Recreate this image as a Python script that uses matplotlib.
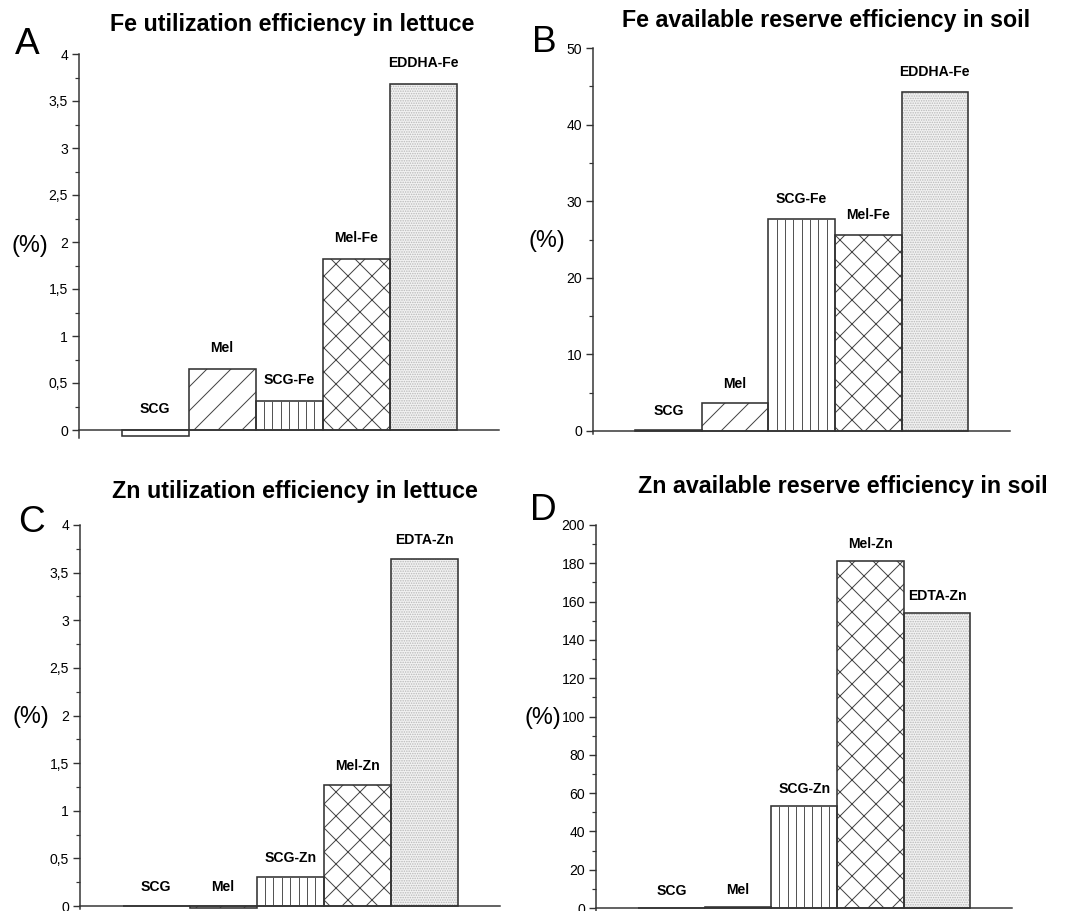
import matplotlib
matplotlib.use('Agg')
import matplotlib.pyplot as plt
from matplotlib.ticker import MultipleLocator, FuncFormatter

plt.rcParams['font.family'] = ['Liberation Sans', 'DejaVu Sans']
plt.rcParams['hatch.linewidth'] = 1.0

# data
fe_labels = ['SCG', 'Mel', 'SCG-Fe', 'Mel-Fe', 'EDDHA-Fe']
zn_labels = ['SCG', 'Mel', 'SCG-Zn', 'Mel-Zn', 'EDTA-Zn']
fe_lettuce = [-0.06, 0.645, 0.305, 1.82, 3.68]
fe_soil = [0.1, 3.6, 27.7, 25.6, 44.3]
zn_lettuce = [0.005, -0.02, 0.305, 1.275, 3.64]
zn_soil = [0.0, 0.5, 53.3, 181.4, 153.9]

hatches = ['', '/', 'vert', 'x', '.....']

# at 72 dpi one point is one pixel
W, H, DPI = 1074, 911, 72
fig = plt.figure(figsize=(W / DPI, H / DPI), dpi=DPI)


def comma(v, pos):
    s = '{:g}'.format(v)
    return s.replace('.', ',')


def panel(px, letter, lpos, title, tpos, labels, vals, ymax, major, minor, ybot, lab_off):
    # px = (left, right, top_at_ymax, zero_pixel)
    left, right, top, zero = px
    ppu = (zero - top) / ymax
    bottom = zero + (-ybot) * ppu
    ax = fig.add_axes([left / W, 1 - bottom / H, (right - left) / W, (bottom - top) / H])
    x = range(1, 6)
    for xi, v, h in zip(x, vals, hatches):
        if h.startswith('.'):
            ax.bar(xi, v, width=1.0, color='#f2f2f2', edgecolor='#b8b8b8', hatch=h, linewidth=0)
        elif h == 'vert':
            ax.bar(xi, v, width=1.0, color='white', linewidth=0)
            ax.vlines([xi - 0.5 + k / 8 for k in range(1, 8)], 0, v, color='#555555', lw=1.0)
        else:
            ax.bar(xi, v, width=1.0, color='white', edgecolor='#444444', hatch=h, linewidth=0)
    ax.bar(x, vals, width=1.0, fill=False, edgecolor='#333333', linewidth=1.6)
    for xi, v, t in zip(x, vals, labels):
        ax.annotate(t, (xi, max(v, 0)), xytext=(0, lab_off), textcoords='offset points',
                    ha='center', va='center', fontsize=14, fontweight='bold')
    ax.set_xlim(-0.135, 6.13)
    ax.set_ylim(ybot, ymax)
    ax.spines['top'].set_visible(False)
    ax.spines['right'].set_visible(False)
    ax.spines['bottom'].set_position(('data', 0))
    for s in ['left', 'bottom']:
        ax.spines[s].set_linewidth(1.5)
        ax.spines[s].set_color('#333333')
    ax.set_xticks([])
    ax.yaxis.set_major_locator(MultipleLocator(major))
    ax.yaxis.set_minor_locator(MultipleLocator(minor))
    ax.yaxis.set_major_formatter(FuncFormatter(comma))
    ax.tick_params(axis='y', which='major', direction='out', length=7, width=1.4,
                   labelsize=14, pad=4, color='#333333')
    ax.tick_params(axis='y', which='minor', direction='out', length=4, width=1.2, color='#333333')
    ax.set_ylabel('(%)', rotation=0, fontsize=23.5, labelpad=19, va='center')
    fig.text(lpos[0] / W, 1 - lpos[1] / H, letter, fontsize=37, ha='center', va='center')
    fig.text(tpos[0] / W, 1 - tpos[1] / H, title, fontsize=23.2, fontweight='bold',
             ha='center', va='center')
    return ax


panel((79, 499, 54, 430), 'A', (27, 44), 'Fe utilization efficiency in lettuce', (292, 25),
      fe_labels, fe_lettuce, 4, 0.5, 0.25, -0.08, 21)
panel((593, 1010, 48, 431), 'B', (544, 42), 'Fe available reserve efficiency in soil', (826, 20),
      fe_labels, fe_soil, 50, 10, 5, -0.4, 19.5)
panel((80, 500, 525, 906), 'C', (31, 523), 'Zn utilization efficiency in lettuce', (295, 492),
      zn_labels, zn_lettuce, 4, 0.5, 0.25, -0.03, 19)
panel((596, 1012, 525, 908), 'D', (543, 511), 'Zn available reserve efficiency in soil', (843, 486),
      zn_labels, zn_soil, 200, 20, 10, -1.5, 17)

fig.savefig('out.png', dpi=DPI)
